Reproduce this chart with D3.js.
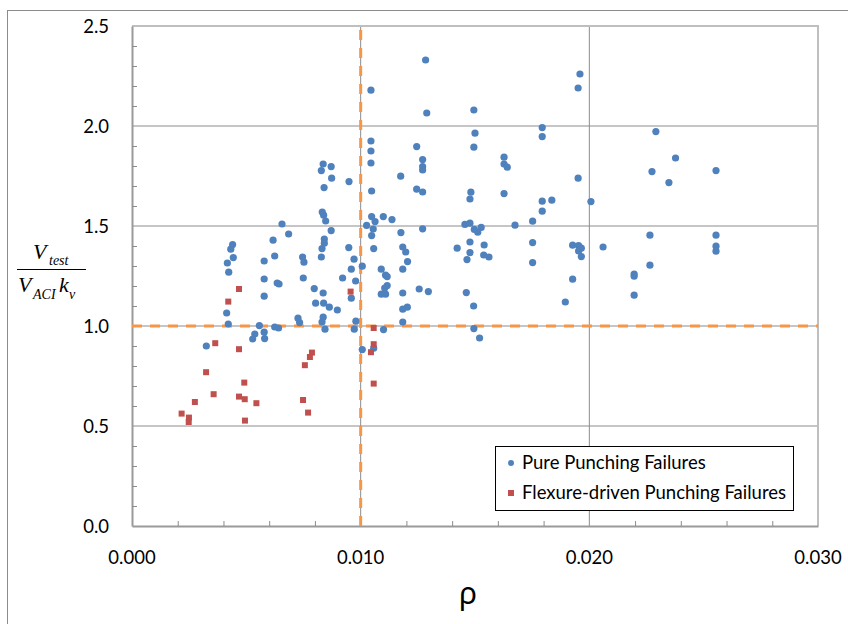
<!DOCTYPE html>
<html>
<head>
<meta charset="utf-8">
<script src="https://cdn.jsdelivr.net/npm/d3@7/dist/d3.min.js"></script>
<style>
  body { margin: 0; background: #fff; }
  svg { display: block; }
</style>
</head>
<body>
<div id="chart"></div>
<script>
// --- data ---
const pureRho = [
  0.00656, 0.00847, 0.00871, 0.00685, 0.00440, 0.00432, 0.00617, 0.00841, 0.00841, 0.00831,
  0.00948, 0.00443, 0.00417, 0.00578, 0.00624, 0.00746, 0.00752, 0.00828, 0.00971, 0.01007,
  0.00423, 0.00959, 0.00578, 0.00635, 0.00643, 0.00749, 0.00921, 0.00978, 0.00797, 0.00836,
  0.00959, 0.00578, 0.00803, 0.00838, 0.00863, 0.00898, 0.00414, 0.00421, 0.00726, 0.00733,
  0.00836, 0.00831, 0.00979, 0.00557, 0.00624, 0.00641, 0.00844, 0.00972, 0.00537, 0.00578,
  0.00528, 0.00580, 0.00325, 0.01007, 0.00836, 0.00828, 0.00871, 0.00873, 0.00840, 0.00949,
  0.00832, 0.00838, 0.01284, 0.01045, 0.01289, 0.01495, 0.01045, 0.01045, 0.01045, 0.01245,
  0.01271, 0.01271, 0.01271, 0.01175, 0.01500, 0.01495, 0.01627, 0.01627, 0.01641, 0.01048,
  0.01245, 0.01271, 0.01482, 0.01478, 0.01627, 0.01794, 0.01794, 0.01794, 0.01794, 0.01752,
  0.01675, 0.01048, 0.01063, 0.01099, 0.01137, 0.01026, 0.01456, 0.01478, 0.01497, 0.01527,
  0.01271, 0.01055, 0.01048, 0.01176, 0.01512, 0.01057, 0.01184, 0.01197, 0.01205, 0.01184,
  0.01422, 0.01478, 0.01478, 0.01465, 0.01540, 0.01538, 0.01561, 0.01752, 0.01752, 0.01090,
  0.01109, 0.01116, 0.01105, 0.01116, 0.01090, 0.01109, 0.01184, 0.01256, 0.01296, 0.01462,
  0.01494, 0.01184, 0.01204, 0.01184, 0.01100, 0.01495, 0.01520, 0.01057, 0.01959, 0.01951,
  0.02291, 0.02377, 0.02274, 0.02348, 0.02554, 0.01951, 0.01836, 0.02007, 0.01927, 0.01953,
  0.01965, 0.01953, 0.01965, 0.02060, 0.02265, 0.02554, 0.02554, 0.02554, 0.02265, 0.02196,
  0.02196, 0.01927, 0.02196, 0.01895
];
const pureRatio = [
  1.510, 1.525, 1.477, 1.460, 1.407, 1.384, 1.429, 1.435, 1.414, 1.387,
  1.392, 1.342, 1.315, 1.325, 1.350, 1.345, 1.319, 1.345, 1.334, 1.299,
  1.269, 1.284, 1.235, 1.215, 1.210, 1.240, 1.240, 1.225, 1.187, 1.165,
  1.139, 1.149, 1.114, 1.114, 1.094, 1.080, 1.065, 1.010, 1.039, 1.017,
  1.044, 1.020, 1.024, 1.002, 0.995, 0.990, 0.984, 0.984, 0.960, 0.969,
  0.935, 0.937, 0.900, 0.882, 1.810, 1.777, 1.797, 1.739, 1.692, 1.722,
  1.570, 1.554, 2.330, 2.179, 2.065, 2.080, 1.925, 1.875, 1.815, 1.897,
  1.832, 1.797, 1.780, 1.749, 1.964, 1.894, 1.844, 1.810, 1.794, 1.675,
  1.684, 1.670, 1.669, 1.635, 1.662, 1.992, 1.947, 1.624, 1.574, 1.524,
  1.504, 1.547, 1.522, 1.547, 1.532, 1.503, 1.508, 1.514, 1.483, 1.493,
  1.486, 1.485, 1.452, 1.467, 1.469, 1.387, 1.395, 1.370, 1.322, 1.284,
  1.389, 1.420, 1.367, 1.332, 1.405, 1.355, 1.345, 1.417, 1.317, 1.284,
  1.254, 1.247, 1.190, 1.202, 1.159, 1.159, 1.165, 1.185, 1.172, 1.167,
  1.100, 1.084, 1.094, 1.020, 0.982, 0.987, 0.940, 0.889, 2.260, 2.190,
  1.972, 1.840, 1.772, 1.717, 1.777, 1.739, 1.629, 1.622, 1.404, 1.402,
  1.389, 1.375, 1.347, 1.395, 1.454, 1.454, 1.399, 1.374, 1.304, 1.260,
  1.249, 1.234, 1.154, 1.120
];
const flexRho = [
  0.00217, 0.00249, 0.00248, 0.00275, 0.00324, 0.00357, 0.00364, 0.00421, 0.00468, 0.00468,
  0.00491, 0.00468, 0.00493, 0.00494, 0.00544, 0.00748, 0.00756, 0.00778, 0.00787, 0.00770,
  0.00956, 0.01057, 0.01057, 0.01045, 0.01057
];
const flexRatio = [
  0.562, 0.542, 0.520, 0.620, 0.769, 0.659, 0.914, 1.122, 1.185, 0.884,
  0.717, 0.647, 0.634, 0.527, 0.614, 0.630, 0.804, 0.845, 0.867, 0.567,
  1.172, 0.990, 0.909, 0.869, 0.712
];
const xTicks = [0, 0.01, 0.02, 0.03];
const yTicks = [0, 0.5, 1.0, 1.5, 2.0, 2.5];
const rhoLimit = 0.01;
const ratioLimit = 1.0;
const seriesNames = ["Pure Punching Failures", "Flexure-driven Punching Failures"];

const width = 848, height = 624;
const margin = { top: 26, right: 30, bottom: 98, left: 132 };

const svg = d3.select("#chart").append("svg")
  .attr("width", width).attr("height", height);

// chart frame
svg.append("rect")
  .attr("x", 7.5).attr("y", 10.5)
  .attr("width", width).attr("height", height)
  .attr("fill", "none").attr("stroke", "#8c8c8c");

const x = d3.scaleLinear().domain([0, 0.03]).range([margin.left, width - margin.right]);
const y = d3.scaleLinear().domain([0, 2.5]).range([height - margin.bottom, margin.top]);

// gridlines
svg.append("g").selectAll("line")
  .data(yTicks.slice(1)).enter().append("line")
  .attr("x1", x(0)).attr("x2", x(0.03))
  .attr("y1", d => y(d)).attr("y2", d => y(d))
  .attr("stroke", "#8c8c8c").attr("stroke-width", 1);
svg.append("g").selectAll("line")
  .data(xTicks.slice(1)).enter().append("line")
  .attr("x1", d => x(d)).attr("x2", d => x(d))
  .attr("y1", y(0)).attr("y2", y(2.5))
  .attr("stroke", "#8c8c8c").attr("stroke-width", 1);

// plot border (top / right are lighter)
svg.append("path")
  .attr("d", `M${x(0)},${y(2.5)}H${x(0.03)}V${y(0)}`)
  .attr("fill", "none").attr("stroke", "#bfbfbf").attr("stroke-width", 2);

// minor ticks
const xMinor = d3.range(1, 15).map(i => i * 0.002).filter(v => Math.abs(v * 100 - Math.round(v * 100)) > 1e-9);
const yMinor = d3.range(1, 25).map(i => i / 10).filter(v => Math.abs(v * 2 - Math.round(v * 2)) > 1e-9);

svg.append("g").attr("transform", `translate(0,${y(0)})`)
  .call(d3.axisBottom(x).tickValues(xMinor).tickSize(-5).tickSizeOuter(0).tickFormat(""))
  .call(g => g.selectAll("line").attr("stroke", "#8c8c8c"))
  .call(g => g.select(".domain").attr("stroke", "#9a9a9a").attr("stroke-width", 2));
svg.append("g").attr("transform", `translate(${x(0)},0)`)
  .call(d3.axisLeft(y).tickValues(yMinor).tickSize(-5).tickSizeOuter(0).tickFormat(""))
  .call(g => g.selectAll("line").attr("stroke", "#8c8c8c"))
  .call(g => g.select(".domain").attr("stroke", "#9a9a9a").attr("stroke-width", 2));

// tick labels
svg.append("g").selectAll("text")
  .data(xTicks).enter().append("text")
  .attr("x", d => x(d)).attr("y", 564)
  .attr("text-anchor", "middle")
  .style("font-family", "Lato, 'Open Sans', sans-serif").style("font-size", "18.5px").attr("fill", "#000")
  .text(d3.format(".3f"));
svg.append("g").selectAll("text")
  .data(yTicks).enter().append("text")
  .attr("x", 109).attr("y", d => y(d) + 6.5)
  .attr("text-anchor", "end")
  .style("font-family", "Lato, 'Open Sans', sans-serif").style("font-size", "18.5px").attr("fill", "#000")
  .text(d3.format(".1f"));

// limit lines
const orange = "#f79646";
svg.append("line")
  .attr("x1", x(rhoLimit)).attr("x2", x(rhoLimit))
  .attr("y1", y(0)).attr("y2", y(2.5))
  .attr("stroke", orange).attr("stroke-width", 3).attr("stroke-dasharray", "10,8");
svg.append("line")
  .attr("x1", x(0)).attr("x2", x(0.03))
  .attr("y1", y(ratioLimit)).attr("y2", y(ratioLimit))
  .attr("stroke", orange).attr("stroke-width", 3).attr("stroke-dasharray", "10,8");

// points
const pure = pureRho.map((r, i) => ({ r, v: pureRatio[i] }));
const flex = flexRho.map((r, i) => ({ r, v: flexRatio[i] }));
const blue = "#4f81bd", red = "#c0504d";

svg.append("g").selectAll("circle")
  .data(pure).enter().append("circle")
  .attr("cx", d => x(d.r)).attr("cy", d => y(d.v))
  .attr("r", 3.6).attr("fill", blue);
svg.append("g").selectAll("rect")
  .data(flex).enter().append("rect")
  .attr("x", d => x(d.r) - 3).attr("y", d => y(d.v) - 3)
  .attr("width", 6).attr("height", 6).attr("fill", red);

// legend
const lg = svg.append("g");
lg.append("rect")
  .attr("x", 495.5).attr("y", 446.5).attr("width", 298).attr("height", 64)
  .attr("fill", "#fff").attr("stroke", "#000").attr("stroke-width", 1);
lg.append("circle").attr("cx", 511).attr("cy", 463).attr("r", 3).attr("fill", blue);
lg.append("rect").attr("x", 508).attr("y", 490).attr("width", 6).attr("height", 6).attr("fill", red);
lg.selectAll("text")
  .data(seriesNames).enter().append("text")
  .attr("x", 522).attr("y", (d, i) => 469 + i * 30)
  .style("font-family", "Lato, 'Open Sans', sans-serif").style("font-size", "18.5px").attr("fill", "#000")
  .text(d => d);

// axis titles
svg.append("text")
  .attr("x", 468).attr("y", 604).attr("text-anchor", "middle")
  .style("font-family", "'Noto Sans', sans-serif").style("font-size", "30px").attr("fill", "#000")
  .text("ρ");

const serif = "'Liberation Serif', 'Times New Roman', serif";
const yt = svg.append("g").style("font-family", serif).style("font-style", "italic").attr("fill", "#000");
yt.append("text").attr("x", 33).attr("y", 259).style("font-size", "22px").text("V");
yt.append("text").attr("x", 49).attr("y", 265).style("font-size", "14px").text("test");
yt.append("line").attr("x1", 17).attr("x2", 86).attr("y1", 269.5).attr("y2", 269.5)
  .attr("stroke", "#000").attr("stroke-width", 1.2);
yt.append("text").attr("x", 18).attr("y", 292).style("font-size", "22px").text("V");
yt.append("text").attr("x", 33).attr("y", 299).style("font-size", "14px").text("ACI");
yt.append("text").attr("x", 59).attr("y", 292).style("font-size", "22px").text("k");
yt.append("text").attr("x", 69).attr("y", 299).style("font-size", "14px").text("v");
</script>
</body>
</html>
